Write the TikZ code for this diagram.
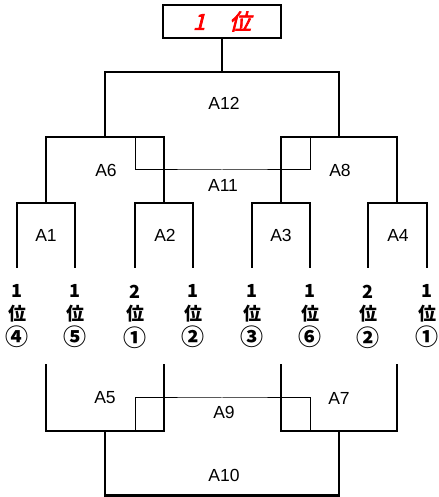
\documentclass[tikz,border=0pt]{standalone}
\usepackage{fontspec}
\setmainfont{Liberation Sans}
\newfontfamily\jpfont{Noto Sans CJK JP}
\newfontfamily\jptop{Noto Sans CJK JP}[FakeSlant=0.25,FakeBold=3.5]
\newcommand\circnum[1]{{\fontsize{23bp}{22.5bp}\selectfont #1}}
\definecolor{rankred}{RGB}{255,0,0}
\tikzset{
  heavy/.style={line width=2.6bp,line cap=rect},
  light/.style={line width=1bp},
  matchlabel/.style={inner sep=0pt,font=\fontsize{17.5bp}{17.5bp}\selectfont},
  entrant/.style={inner sep=0pt,align=center,font=\jpfont\bfseries\fontsize{18bp}{22.5bp}\selectfont},
}
\begin{document}
\begin{tikzpicture}[x=1bp,y=1bp,line join=miter]
\useasboundingbox (0,0) rectangle (439,497);
%%
\node (top) at (222bp,475.5bp) [draw,heavy,minimum width=118bp,minimum height=33bp,inner sep=0pt,text=rankred,font=\jptop\fontsize{22bp}{22bp}\selectfont] {1\hspace{24bp}位};
%
  \node (leaf_1) at (17bp,180.5bp) [entrant] {1\\位\\[3bp]\circnum{④}};
  \node (leaf_2) at (75bp,180.5bp) [entrant] {1\\位\\[3bp]\circnum{⑤}};
  \node (leaf_3) at (135bp,180.5bp) [entrant] {2\\位\\[3bp]\circnum{①}};
  \node (leaf_4) at (193bp,180.5bp) [entrant] {1\\位\\[3bp]\circnum{②}};
  \node (leaf_5) at (252bp,180.5bp) [entrant] {1\\位\\[3bp]\circnum{③}};
  \node (leaf_6) at (310bp,180.5bp) [entrant] {1\\位\\[3bp]\circnum{⑥}};
  \node (leaf_7) at (368bp,180.5bp) [entrant] {2\\位\\[3bp]\circnum{②}};
  \node (leaf_8) at (427bp,180.5bp) [entrant] {1\\位\\[3bp]\circnum{①}};
%
  \coordinate (up_1) at (17bp,230bp);
  \coordinate (up_2) at (75bp,230bp);
  \coordinate (up_3) at (135bp,230bp);
  \coordinate (up_4) at (193bp,230bp);
  \coordinate (up_5) at (252bp,230bp);
  \coordinate (up_6) at (310bp,230bp);
  \coordinate (up_7) at (368bp,230bp);
  \coordinate (up_8) at (427bp,230bp);
  \coordinate (win_1) at (46bp,294bp);
  \coordinate (win_2) at (164bp,294bp);
  \coordinate (win_3) at (281bp,294bp);
  \coordinate (win_4) at (397bp,294bp);
  \coordinate (win_6) at (105bp,360bp);
  \coordinate (win_8) at (339bp,360bp);
  \coordinate (win_12) at (222bp,425bp);
  \coordinate (tie_11a) at (135bp,360bp);
  \coordinate (tie_11b) at (310bp,360bp);
  \coordinate (win_11) at (222bp,327bp);
%
  \coordinate (lo_1) at (46bp,132bp);
  \coordinate (lo_2) at (164bp,132bp);
  \coordinate (lo_3) at (281bp,132bp);
  \coordinate (lo_4) at (397bp,132bp);
  \coordinate (win_5) at (105bp,66bp);
  \coordinate (win_7) at (339bp,66bp);
  \coordinate (win_10) at (222bp,1.5bp);
  \coordinate (tie_9a) at (135bp,66bp);
  \coordinate (tie_9b) at (310bp,66bp);
  \coordinate (win_9) at (222bp,99bp);
%
  \draw [light] (tie_11a) |- (win_11) -| (tie_11b);
  \draw [light] (tie_9a) |- (win_9) -| (tie_9b);
  \draw [heavy] (up_1) |- (win_1) -| (up_2);
  \draw [heavy] (up_3) |- (win_2) -| (up_4);
  \draw [heavy] (up_5) |- (win_3) -| (up_6);
  \draw [heavy] (up_7) |- (win_4) -| (up_8);
  \draw [heavy] (win_1) |- (win_6) -| (win_2);
  \draw [heavy] (win_3) |- (win_8) -| (win_4);
  \draw [heavy] (win_6) |- (win_12) -| (win_8);
  \draw [heavy] (win_12) -- (top);
  \draw [heavy] (lo_1) |- (win_5) -| (lo_2);
  \draw [heavy] (lo_3) |- (win_7) -| (lo_4);
  \draw [heavy] (win_5) |- (win_10) -| (win_7);
%
  \node (A1) at (46bp,262bp) [matchlabel] {A1};
  \node (A2) at (165bp,262bp) [matchlabel] {A2};
  \node (A3) at (281bp,262bp) [matchlabel] {A3};
  \node (A4) at (398bp,262bp) [matchlabel] {A4};
  \node (A6) at (106bp,327bp) [matchlabel] {A6};
  \node (A8) at (340bp,327bp) [matchlabel] {A8};
  \node (A11) at (223bp,311.5bp) [matchlabel] {A11};
  \node (A12) at (224bp,394bp) [matchlabel] {A12};
  \node (A5) at (105bp,99bp) [matchlabel] {A5};
  \node (A7) at (339bp,99bp) [matchlabel] {A7};
  \node (A9) at (224bp,85bp) [matchlabel] {A9};
  \node (A10) at (224bp,22bp) [matchlabel] {A10};
%
\end{tikzpicture}
\end{document}
